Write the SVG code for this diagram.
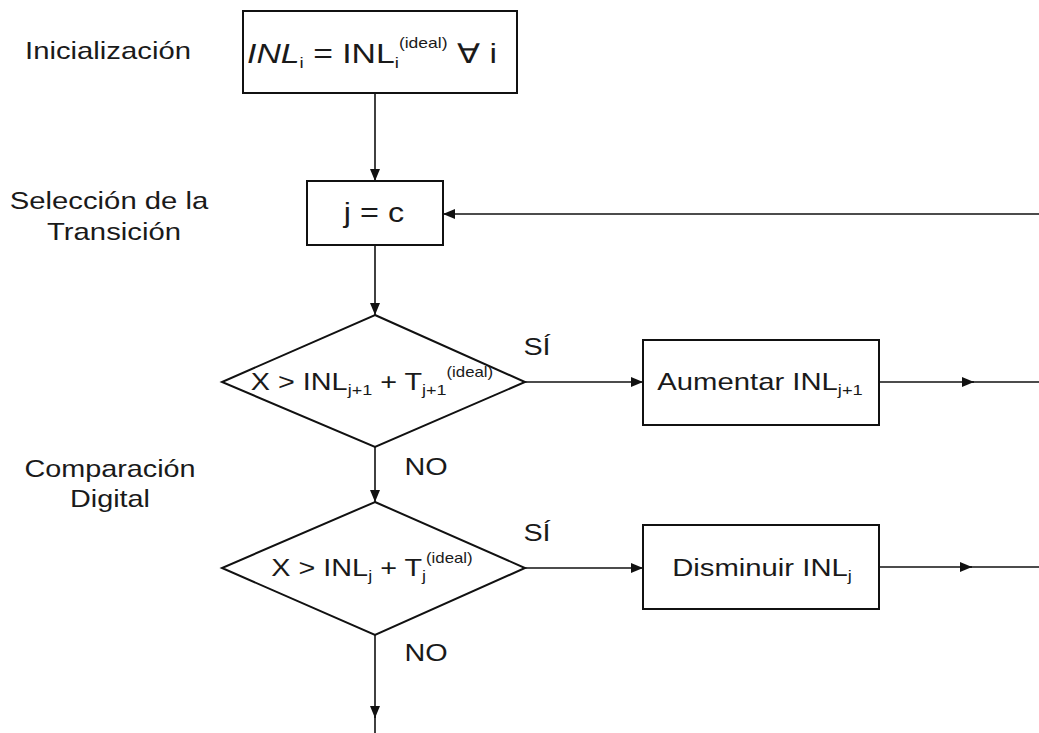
<svg xmlns="http://www.w3.org/2000/svg" width="1039" height="733" viewBox="0 0 1039 733">
<style>
.shape{fill:#fff;stroke:#111;stroke-width:2}
.conn{fill:none;stroke:#111;stroke-width:1.6}
.t{font-family:"Liberation Sans",Arial,sans-serif;font-size:24px;fill:#1a1a1a;text-anchor:middle}
.big{font-size:27px}
.sub{font-size:15px}
.sup{font-size:14px}
</style>
<defs>
<marker id="ah" viewBox="0 0 12 10" refX="12" refY="5" markerWidth="12" markerHeight="10" markerUnits="userSpaceOnUse" orient="auto">
<path d="M0,0 L12,5 L0,10 z" fill="#111"/>
</marker>
</defs>

<g id="labels">
<text class="t" transform="translate(108,59) scale(1.22,1)">Inicialización</text>
<text class="t" transform="translate(109,209) scale(1.22,1)">Selección de la</text>
<text class="t" transform="translate(114,240) scale(1.22,1)">Transición</text>
<text class="t" transform="translate(110,477) scale(1.2,1)">Comparación</text>
<text class="t" transform="translate(110,507) scale(1.2,1)">Digital</text>
</g>

<g id="connectors">
<path class="conn" d="M375,93 V181" marker-end="url(#ah)"/>
<path class="conn" d="M375,245 V315" marker-end="url(#ah)"/>
<path class="conn" d="M375,447 V502" marker-end="url(#ah)"/>
<path class="conn" d="M375,635 V718" marker-end="url(#ah)"/>
<path class="conn" d="M375,716 V733"/>
<path class="conn" d="M525,382 H643" marker-end="url(#ah)"/>
<path class="conn" d="M525,568 H643" marker-end="url(#ah)"/>
<path class="conn" d="M879,382 H974" marker-end="url(#ah)"/>
<path class="conn" d="M972,382 H1039"/>
<path class="conn" d="M879,567 H972" marker-end="url(#ah)"/>
<path class="conn" d="M970,567 H1039"/>
<path class="conn" d="M1039,214 H443" marker-end="url(#ah)"/>
<text class="t" transform="translate(537,355) scale(1.2,1)">SÍ</text>
<text class="t" transform="translate(426,475) scale(1.2,1)">NO</text>
<text class="t" transform="translate(537,541) scale(1.2,1)">SÍ</text>
<text class="t" transform="translate(426,661) scale(1.2,1)">NO</text>
</g>

<g id="init">
<rect class="shape" x="243" y="11" width="274" height="82"/>
<text class="t big" transform="translate(372,63) scale(1.25,1)"><tspan font-style="italic">INL</tspan><tspan class="sub" dy="5">i</tspan><tspan dy="-5"> = INL</tspan><tspan class="sub" dy="5">i</tspan><tspan class="sup" dy="-20">(ideal)</tspan><tspan dy="15">   ∀ i</tspan></text>
</g>

<g id="select">
<rect class="shape" x="307" y="181" width="136" height="64"/>
<text class="t big" transform="translate(374,222) scale(1.2,1)">j = c</text>
</g>

<g id="cmp1">
<polygon class="shape" points="375,315 525,382 375,447 222,382"/>
<text class="t" transform="translate(372,390) scale(1.2,1)">X &gt; INL<tspan class="sub" dy="5">j+1</tspan><tspan dy="-5"> + T</tspan><tspan class="sub" dy="5">j+1</tspan><tspan class="sup" dy="-18">(ideal)</tspan></text>
</g>

<g id="aumentar">
<rect class="shape" x="643" y="340" width="236" height="85"/>
<text class="t" transform="translate(760,390) scale(1.22,1)">Aumentar INL<tspan class="sub" dy="5">j+1</tspan></text>
</g>

<g id="cmp2">
<polygon class="shape" points="375,502 525,568 375,635 222,568"/>
<text class="t" transform="translate(372,576) scale(1.2,1)">X &gt; INL<tspan class="sub" dy="5">j</tspan><tspan dy="-5"> + T</tspan><tspan class="sub" dy="5">j</tspan><tspan class="sup" dy="-18">(ideal)</tspan></text>
</g>

<g id="disminuir">
<rect class="shape" x="643" y="525" width="236" height="84"/>
<text class="t" transform="translate(762,576) scale(1.22,1)">Disminuir INL<tspan class="sub" dy="5">j</tspan></text>
</g>
</svg>
